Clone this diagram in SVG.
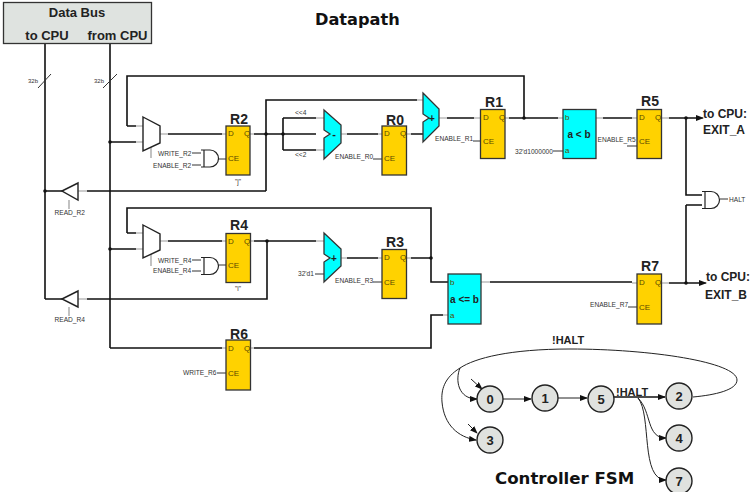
<svg xmlns="http://www.w3.org/2000/svg" width="753" height="492" viewBox="0 0 753 492">
<style>
text{font-family:"Liberation Sans",Arial,sans-serif;fill:#222}
.w{fill:none;stroke:#111;stroke-width:1.6}
.s{fill:none;stroke:#999;stroke-width:1.2}
.t{fill:none;stroke:#333;stroke-width:1}
.f{fill:none;stroke:#222;stroke-width:1}
.d{fill:#111;stroke:none}
.reg{fill:#ffd200;stroke:#333;stroke-width:1.3}
.alu{fill:#00ffff;stroke:#333;stroke-width:1.3}
.mux{fill:#fff;stroke:#222;stroke-width:1.4}
.gate{fill:#fff;stroke:#222;stroke-width:1.2}
.st{fill:#e0e2df;stroke:#222;stroke-width:1.4}
.sm{font-size:6.600px;fill:#333}
.p{font-size:8px;fill:#5a4a00}
.n{font-size:14px;font-weight:bold;text-anchor:middle}
.h{font-size:12px;font-weight:bold}
.c{font-size:13px;font-weight:bold;text-anchor:middle}
.sn{font-size:13px;font-weight:bold;text-anchor:middle}
.v{font-family:"DejaVu Sans",Verdana,sans-serif;font-weight:bold;fill:#111}
</style>
<defs>
<marker id="a" markerWidth="8" markerHeight="6" refX="7" refY="3" orient="auto" markerUnits="userSpaceOnUse"><path d="M0,0L8,3L0,6z" fill="#111"/></marker>
<g id="and"><path class="gate" d="M0,0H9A8.500,8.500 0 0 1 9,17H0M3,0V17"/></g>
</defs>

<g id="connectors">
<path class="w" d="M45,43V299M110,43V348"/>
<path class="t" d="M38,88L51,74M103,88L117,74"/>
<path class="w" d="M127,126V76H524V118M127,126H136M110,142H136M168,134H222"/>
<path class="s" d="M136,126H143M136,142H143M160,134H168M222,134H226M151,147V158"/>
<path class="w" d="M254,134H316M283,118V150M283,118H316M283,150H316M266,191V100H417M266,191H87M70,191H45"/>
<path class="s" d="M250,134H254M316,118H324M316,150H324M341,134H347M417,100H423M78,191H87M69,200V209"/>
<path class="w" d="M347,134H378M411,134H423M447,118H474M509,118H558M603,118H632M669,118H700"/>
<path class="s" d="M378,134H382M406,134H411M439,118H447M474,118H480M505,118H509M558,118H563M596,118H603M632,118H637M661,118H669"/>
<path class="w" d="M686,118V195H702M686,205H702M686,205V283"/>
<path class="f" d="M700,118H703" marker-end="url(#a)"/>
<path class="t" d="M720,199H728M553,151H563M628,307H637M373,159H382M473,141H480M373,282H382M192,153H201M192,165H201M218,159H226M192,260H201M192,271H201M218,265H226M217,373H226M315,274H324"/>
<path class="t" d="M627,146H637"/>
<path class="w" d="M127,233V208H431V282H448M127,233H136M110,249H136M168,241H222M254,241H316M267,241V299H87M70,299H45M347,258H378M411,258H431M110,348H222M254,348H431V315H443M431,282H443"/>
<path class="s" d="M136,233H143M136,249H143M160,241H168M222,241H226M151,254V266M78,299H87M69,307V316M250,241H254M316,241H324M341,258H347M378,258H382M407,258H411M222,348H226M250,348H254M443,315H448"/>
<path class="w" d="M490,282H632M669,283H702"/>
<path class="s" d="M481,282H490M632,283H637M661,283H669"/>
<path class="f" d="M700,283H706" marker-end="url(#a)"/>
<circle class="d" cx="45" cy="191" r="1.800"/><circle class="d" cx="110" cy="142" r="1.800"/><circle class="d" cx="266" cy="134" r="1.800"/><circle class="d" cx="283" cy="134" r="1.800"/><circle class="d" cx="524" cy="118" r="1.800"/><circle class="d" cx="686" cy="118" r="1.800"/><circle class="d" cx="110" cy="249" r="1.800"/><circle class="d" cx="267" cy="241" r="1.800"/><circle class="d" cx="431" cy="258" r="1.800"/><circle class="d" cx="686" cy="283" r="1.800"/>
<path class="f" d="M503,399H531" marker-end="url(#a)"/>
<path class="f" d="M558,398H587" marker-end="url(#a)"/>
<path class="w" d="M614,397H665" marker-end="url(#a)"/>
<path class="f" d="M693,397C715,395 737,390 737,380C737,362 650,349 570,349C510,349 475,358 460,368C455,380 458,399 477,399" marker-end="url(#a)"/>
<path class="f" d="M460,368C444,378 441,390 442,402C444,425 458,437 476,440" marker-end="url(#a)"/>
<path class="f" d="M471,379L482,389" marker-end="url(#a)"/>
<path class="f" d="M468,424L477,433" marker-end="url(#a)"/>
<path class="f" d="M638,398C652,412 646,438 666,438" marker-end="url(#a)"/>
<path class="f" d="M638,398C652,415 640,480 666,480" marker-end="url(#a)"/>
</g>

<g id="data-bus"><rect x="3.500" y="2.500" width="148" height="41" fill="#dfe3e0" stroke="#333" stroke-width="1.300"/><text class="c" x="77" y="17">Data Bus</text><text class="c" x="47" y="40">to CPU</text><text class="c" x="117.500" y="40">from CPU</text></g>
<g id="title"><text class="v" x="315" y="25" font-size="16.200">Datapath</text></g>
<text class="sm" x="28" y="83" style="font-size:6px">32b</text><text class="sm" x="94" y="83" style="font-size:6px">32b</text>

<g id="mux-r2"><path class="mux" d="M143,117L160,126V143L143,151Z"/></g>
<g id="mux-r4"><path class="mux" d="M143,225L160,234V250L143,258Z"/></g>
<g id="buf-r2"><path class="mux" d="M62,191L78,183V200Z"/><text class="sm" x="54.500" y="215">READ_R2</text></g>
<g id="buf-r4"><path class="mux" d="M62,299L78,291V307Z"/><text class="sm" x="54.500" y="322">READ_R4</text></g>

<g id="and-r2"><use href="#and" x="201" y="150"/><text class="sm" x="158" y="155.500">WRITE_R2</text><text class="sm" x="153" y="167.500">ENABLE_R2</text></g>
<g id="and-r4"><use href="#and" x="201" y="257.500"/><text class="sm" x="158" y="262.500">WRITE_R4</text><text class="sm" x="153" y="273">ENABLE_R4</text></g>
<g id="and-halt"><use href="#and" x="702" y="191.500"/><text class="sm" x="729" y="202">HALT</text></g>

<g id="r2"><rect class="reg" x="226" y="126" width="24" height="49"/><text class="p" x="228" y="136">D</text><text class="p" x="244" y="136">Q</text><text class="p" x="228" y="161">CE</text><text class="n" x="239" y="124">R2</text><text class="sm" x="238" y="184" text-anchor="middle">"j"</text></g>
<g id="r0"><rect class="reg" x="382" y="126" width="24.500" height="49"/><text class="p" x="384" y="136">D</text><text class="p" x="400" y="136">Q</text><text class="p" x="384" y="161">CE</text><text class="n" x="395" y="125">R0</text><text class="sm" x="335" y="159">ENABLE_R0</text></g>
<g id="r1"><rect class="reg" x="480.500" y="109.500" width="24.500" height="49"/><text class="p" x="483" y="120">D</text><text class="p" x="499" y="120">Q</text><text class="p" x="483" y="144">CE</text><text class="n" x="494" y="107">R1</text><text class="sm" x="435" y="141">ENABLE_R1</text></g>
<g id="r5"><rect class="reg" x="637" y="109.500" width="24.500" height="49"/><text class="p" x="639" y="120">D</text><text class="p" x="655" y="120">Q</text><text class="p" x="639" y="144">CE</text><text class="n" x="650" y="106">R5</text><text class="sm" x="597.500" y="141.500">ENABLE_R5</text></g>
<g id="r4"><rect class="reg" x="226" y="233.500" width="24.500" height="49"/><text class="p" x="228" y="244">D</text><text class="p" x="244" y="244">Q</text><text class="p" x="228" y="268">CE</text><text class="n" x="239" y="230">R4</text><text class="sm" x="238" y="291" text-anchor="middle">"i"</text></g>
<g id="r3"><rect class="reg" x="382" y="249.500" width="24.500" height="49"/><text class="p" x="384" y="260">D</text><text class="p" x="400" y="260">Q</text><text class="p" x="384" y="285">CE</text><text class="n" x="395" y="247">R3</text><text class="sm" x="335" y="283">ENABLE_R3</text></g>
<g id="r6"><rect class="reg" x="226" y="340" width="24.500" height="50"/><text class="p" x="228" y="351">D</text><text class="p" x="244" y="351">Q</text><text class="p" x="228" y="376">CE</text><text class="n" x="239" y="339">R6</text><text class="sm" x="183" y="375">WRITE_R6</text></g>
<g id="r7"><rect class="reg" x="637" y="274" width="24.500" height="50"/><text class="p" x="639" y="285">D</text><text class="p" x="655" y="285">Q</text><text class="p" x="639" y="310">CE</text><text class="n" x="650" y="271">R7</text><text class="sm" x="590" y="307">ENABLE_R7</text></g>

<g id="sub"><path class="alu" d="M324,110L341,125V143L324,159V138L330,134L324,130Z"/><text x="334" y="138" font-size="11" font-weight="bold" text-anchor="middle">-</text><text class="sm" x="295" y="115">&lt;&lt;4</text><text class="sm" x="295" y="157">&lt;&lt;2</text></g>
<g id="add-r1"><path class="alu" d="M423,93L439,109V126L423,142V122L429,118L423,114Z"/><text x="432" y="121.500" font-size="10" font-weight="bold" text-anchor="middle">+</text></g>
<g id="add-r3"><path class="alu" d="M324,233L341,249V266L324,282V262L330,258L324,254Z"/><text x="334" y="261.500" font-size="10" font-weight="bold" text-anchor="middle">+</text><text class="sm" x="298" y="276">32'd1</text></g>
<g id="cmp-a"><rect class="alu" x="563" y="109.500" width="33" height="49"/><text class="p" x="565" y="120">b</text><text class="p" x="565" y="153">a</text><text x="579" y="138" font-size="10" font-weight="bold" text-anchor="middle">a &lt; b</text><text class="sm" x="515" y="154">32'd1000000</text></g>
<g id="cmp-b"><rect class="alu" x="448" y="274" width="33" height="50"/><text class="p" x="450" y="285">b</text><text class="p" x="450" y="318">a</text><text x="464.500" y="303" font-size="10" font-weight="bold" text-anchor="middle">a &lt;= b</text></g>

<g id="exit-a"><text class="h" x="703" y="118">to CPU:</text><text class="h" x="703" y="134">EXIT_A</text></g>
<g id="exit-b"><text class="h" x="706" y="281">to CPU:</text><text class="h" x="705" y="299">EXIT_B</text></g>

<g id="s0"><circle class="st" cx="490" cy="399" r="13"/><text class="sn" x="490" y="403.500">0</text></g>
<g id="s1"><circle class="st" cx="545" cy="398" r="13"/><text class="sn" x="545" y="402.500">1</text></g>
<g id="s5"><circle class="st" cx="601" cy="399" r="13"/><text class="sn" x="601" y="403.500">5</text></g>
<g id="s2"><circle class="st" cx="679" cy="396" r="13"/><text class="sn" x="679" y="400.500">2</text></g>
<g id="s3"><circle class="st" cx="490" cy="440" r="13"/><text class="sn" x="490" y="444.500">3</text></g>
<g id="s4"><circle class="st" cx="679" cy="438" r="13"/><text class="sn" x="679" y="442.500">4</text></g>
<g id="s7"><circle class="st" cx="679" cy="481" r="13"/><text class="sn" x="679" y="485.500">7</text></g>
<text x="552" y="344" font-size="11" font-weight="bold">!HALT</text>
<text x="616" y="396" font-size="11" font-weight="bold">!HALT</text>
<text class="v" x="495" y="484" font-size="16.600">Controller FSM</text>
</svg>
